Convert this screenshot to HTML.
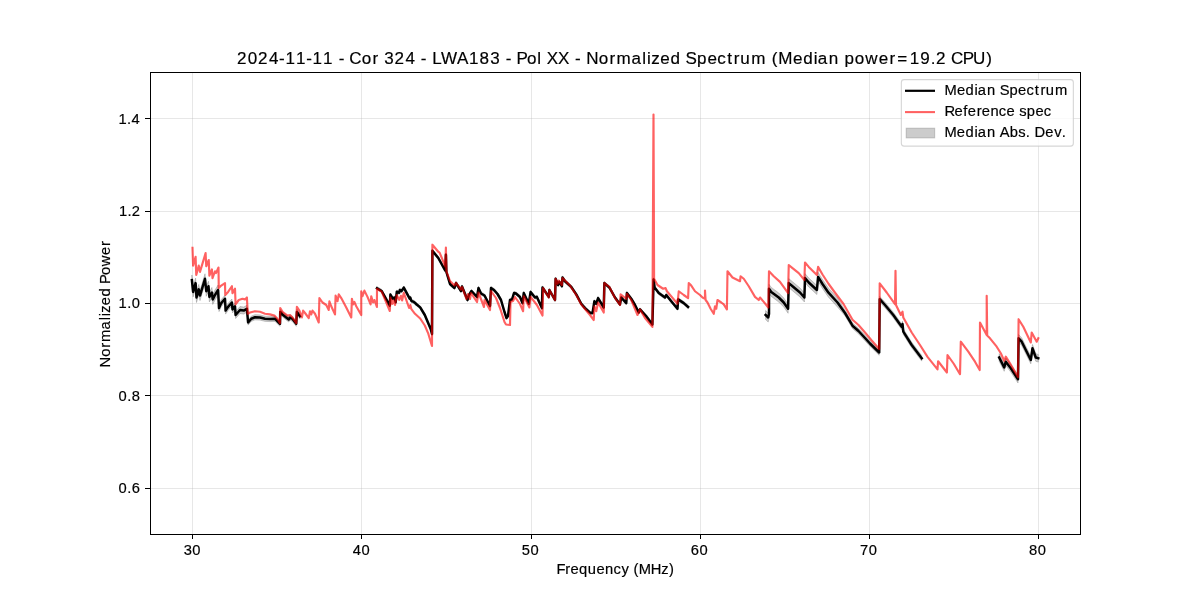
<!DOCTYPE html>
<html><head><meta charset="utf-8"><style>
html,body{margin:0;padding:0;background:#fff;width:1200px;height:600px;overflow:hidden}
svg{display:block;will-change:transform}
</style></head><body>
<svg width="1200" height="600" viewBox="0 0 1200 600"><rect x="0" y="0" width="1200" height="600" fill="#ffffff"/><g stroke="#b0b0b0" stroke-opacity="0.3" stroke-width="1" shape-rendering="crispEdges"><line x1="192.50" y1="72" x2="192.50" y2="534"/><line x1="361.50" y1="72" x2="361.50" y2="534"/><line x1="531.50" y1="72" x2="531.50" y2="534"/><line x1="700.50" y1="72" x2="700.50" y2="534"/><line x1="869.50" y1="72" x2="869.50" y2="534"/><line x1="1038.50" y1="72" x2="1038.50" y2="534"/><line x1="150" y1="488.50" x2="1080" y2="488.50"/><line x1="150" y1="395.50" x2="1080" y2="395.50"/><line x1="150" y1="303.50" x2="1080" y2="303.50"/><line x1="150" y1="211.50" x2="1080" y2="211.50"/><line x1="150" y1="118.50" x2="1080" y2="118.50"/></g><defs><clipPath id="ax"><rect x="150" y="72" width="930" height="462"/></clipPath></defs><g clip-path="url(#ax)"><polygon points="191.90,275.00 193.10,286.90 195.60,278.10 196.50,292.50 198.75,284.40 200.00,290.60 205.00,273.75 206.25,286.25 208.50,281.25 209.40,291.90 211.90,287.50 212.75,294.40 215.00,290.00 218.10,285.00 219.00,304.60 221.25,299.60 225.00,295.25 225.60,307.10 228.10,303.40 231.90,299.00 232.50,305.90 235.00,302.75 235.60,311.50 240.00,306.50 243.75,307.10 246.90,305.25 248.10,319.90 251.25,316.15 255.00,314.65 260.00,314.90 265.00,316.15 270.00,316.40 275.00,316.15 280.00,321.15 280.25,309.30 282.50,311.80 288.75,316.80 290.00,314.90 292.50,316.40 296.25,321.15 296.90,309.30 300.00,313.65 300.00,318.85 296.90,314.50 296.25,326.35 292.50,321.60 290.00,320.10 288.75,322.00 282.50,317.00 280.25,314.50 280.00,326.35 275.00,321.35 270.00,321.60 265.00,321.35 260.00,320.10 255.00,319.85 251.25,321.35 248.10,325.10 246.90,312.25 243.75,314.10 240.00,313.50 235.60,318.50 235.00,309.75 232.50,312.90 231.90,306.00 228.10,310.40 225.60,314.10 225.00,302.25 221.25,306.60 219.00,311.60 218.10,295.00 215.00,300.00 212.75,304.40 211.90,297.50 209.40,301.90 208.50,291.25 206.25,296.25 205.00,283.75 200.00,300.60 198.75,294.40 196.50,302.50 195.60,288.10 193.10,296.90 191.90,285.00" fill="#808080" fill-opacity="0.4" stroke="#808080" stroke-opacity="0.4" stroke-width="1" stroke-linejoin="round"/><polygon points="377.00,286.60 381.70,289.40 389.80,304.10 390.40,293.00 392.80,297.10 394.50,295.90 395.70,300.60 396.80,290.10 399.20,291.20 399.80,288.30 401.50,289.50 403.80,286.00 409.70,297.10 410.30,295.90 411.40,299.40 413.20,300.00 415.50,301.70 416.70,302.90 420.20,305.80 424.80,313.40 430.70,327.40 432.00,332.40 432.40,249.20 438.30,256.40 445.20,268.90 445.90,253.10 446.40,270.40 450.00,282.40 454.50,286.40 456.00,281.40 461.00,289.40 462.00,284.90 467.50,298.40 469.00,293.40 471.50,289.40 477.00,295.40 478.50,286.40 481.00,291.90 484.50,293.90 490.00,304.40 491.00,286.40 494.00,288.40 497.50,292.40 501.00,298.40 504.50,310.40 506.50,316.40 508.00,314.40 510.00,298.40 512.00,297.90 514.00,291.40 516.00,291.90 520.00,295.40 522.50,301.50 523.75,291.50 528.75,302.15 530.60,290.30 535.00,295.90 536.90,295.30 541.90,306.50 542.50,285.90 548.75,295.30 549.40,288.40 555.00,298.40 555.60,277.15 558.10,283.40 559.40,280.30 561.90,284.65 562.50,275.90 565.00,279.65 571.25,285.30 576.25,292.80 581.25,302.15 585.00,306.50 590.60,311.50 592.50,311.50 594.40,299.65 596.25,302.15 598.10,296.50 603.75,305.90 604.40,281.50 609.40,285.90 615.00,295.90 620.00,302.80 621.25,295.90 626.25,301.50 626.90,291.50 631.25,297.15 635.00,303.40 638.75,310.90 640.00,307.80 646.25,314.65 652.40,322.80 653.60,277.80 654.60,285.90 658.75,291.50 665.00,295.90 666.25,293.40 671.25,299.65 677.50,307.15 678.10,297.80 680.00,299.00 683.75,301.50 688.10,305.30 688.10,308.50 683.75,304.70 680.00,302.20 678.10,301.00 677.50,310.35 671.25,302.85 666.25,296.60 665.00,299.10 658.75,294.70 654.60,289.10 653.60,281.00 652.40,326.00 646.25,317.85 640.00,311.00 638.75,314.10 635.00,306.60 631.25,300.35 626.90,294.70 626.25,304.70 621.25,299.10 620.00,306.00 615.00,299.10 609.40,289.10 604.40,284.70 603.75,309.10 598.10,299.70 596.25,305.35 594.40,302.85 592.50,314.70 590.60,314.70 585.00,309.70 581.25,305.35 576.25,296.00 571.25,288.50 565.00,282.85 562.50,279.10 561.90,287.85 559.40,283.50 558.10,286.60 555.60,280.35 555.00,301.60 549.40,291.60 548.75,298.50 542.50,289.10 541.90,309.70 536.90,298.50 535.00,299.10 530.60,293.50 528.75,305.35 523.75,294.70 522.50,304.70 520.00,298.60 516.00,295.10 514.00,294.60 512.00,301.10 510.00,301.60 508.00,317.60 506.50,319.60 504.50,313.60 501.00,301.60 497.50,295.60 494.00,291.60 491.00,289.60 490.00,307.60 484.50,297.10 481.00,295.10 478.50,289.60 477.00,298.60 471.50,292.60 469.00,296.60 467.50,301.60 462.00,288.10 461.00,292.60 456.00,284.60 454.50,289.60 450.00,285.60 446.40,273.60 445.90,256.30 445.20,272.10 438.30,259.60 432.40,252.40 432.00,335.60 430.70,330.60 424.80,316.60 420.20,309.00 416.70,306.10 415.50,304.90 413.20,303.20 411.40,302.60 410.30,299.10 409.70,300.30 403.80,289.20 401.50,292.70 399.80,291.50 399.20,294.40 396.80,293.30 395.70,303.80 394.50,299.10 392.80,300.30 390.40,296.20 389.80,307.30 381.70,292.60 377.00,289.80" fill="#808080" fill-opacity="0.4" stroke="#808080" stroke-opacity="0.4" stroke-width="1" stroke-linejoin="round"/><polygon points="765.60,310.50 768.20,313.00 769.00,309.50 769.00,284.25 771.25,287.40 778.75,293.00 783.75,298.00 788.10,304.25 788.75,278.60 792.50,281.75 800.00,288.00 804.40,293.00 805.00,273.60 808.75,278.00 816.90,285.50 818.10,272.40 822.50,279.50 828.50,288.20 837.50,298.00 845.00,310.20 852.50,322.90 858.50,328.20 865.00,335.20 870.00,340.70 879.20,349.70 879.70,296.40 885.00,302.20 893.30,312.20 901.70,323.90 902.50,321.20 903.30,328.90 911.70,342.20 921.70,355.50 921.70,361.10 911.70,347.80 903.30,334.50 902.50,326.80 901.70,329.50 893.30,317.80 885.00,307.80 879.70,302.00 879.20,355.30 870.00,346.30 865.00,340.80 858.50,333.80 852.50,328.50 845.00,315.80 837.50,307.00 828.50,297.20 822.50,288.50 818.10,281.40 816.90,294.50 808.75,287.00 805.00,282.60 804.40,302.00 800.00,297.00 792.50,290.75 788.75,287.60 788.10,313.25 783.75,307.00 778.75,302.00 771.25,296.40 769.00,293.25 769.00,318.50 768.20,322.00 765.60,319.50" fill="#808080" fill-opacity="0.4" stroke="#808080" stroke-opacity="0.4" stroke-width="1" stroke-linejoin="round"/><polygon points="999.20,353.70 1004.20,363.70 1005.80,357.90 1010.80,364.50 1018.00,375.40 1018.60,334.50 1021.70,337.90 1030.80,356.20 1032.50,344.50 1035.80,353.70 1038.30,354.50 1038.30,362.10 1035.80,361.30 1032.50,352.10 1030.80,363.80 1021.70,345.50 1018.60,342.10 1018.00,383.00 1010.80,372.10 1005.80,365.50 1004.20,371.30 999.20,361.30" fill="#808080" fill-opacity="0.4" stroke="#808080" stroke-opacity="0.4" stroke-width="1" stroke-linejoin="round"/><polyline points="191.90,280.00 193.10,291.90 195.60,283.10 196.50,297.50 198.75,289.40 200.00,295.60 205.00,278.75 206.25,291.25 208.50,286.25 209.40,296.90 211.90,292.50 212.75,299.40 215.00,295.00 218.10,290.00 219.00,308.10 221.25,303.10 225.00,298.75 225.60,310.60 228.10,306.90 231.90,302.50 232.50,309.40 235.00,306.25 235.60,315.00 240.00,310.00 243.75,310.60 246.90,308.75 248.10,322.50 251.25,318.75 255.00,317.25 260.00,317.50 265.00,318.75 270.00,319.00 275.00,318.75 280.00,323.75 280.25,311.90 282.50,314.40 288.75,319.40 290.00,317.50 292.50,319.00 296.25,323.75 296.90,311.90 300.00,316.25" fill="none" stroke="#000000" stroke-width="2.5" stroke-linejoin="round" stroke-linecap="square"/><polyline points="377.00,288.20 381.70,291.00 389.80,305.70 390.40,294.60 392.80,298.70 394.50,297.50 395.70,302.20 396.80,291.70 399.20,292.80 399.80,289.90 401.50,291.10 403.80,287.60 409.70,298.70 410.30,297.50 411.40,301.00 413.20,301.60 415.50,303.30 416.70,304.50 420.20,307.40 424.80,315.00 430.70,329.00 432.00,334.00 432.40,250.80 438.30,258.00 445.20,270.50 445.90,254.70 446.40,272.00 450.00,284.00 454.50,288.00 456.00,283.00 461.00,291.00 462.00,286.50 467.50,300.00 469.00,295.00 471.50,291.00 477.00,297.00 478.50,288.00 481.00,293.50 484.50,295.50 490.00,306.00 491.00,288.00 494.00,290.00 497.50,294.00 501.00,300.00 504.50,312.00 506.50,318.00 508.00,316.00 510.00,300.00 512.00,299.50 514.00,293.00 516.00,293.50 520.00,297.00 522.50,303.10 523.75,293.10 528.75,303.75 530.60,291.90 535.00,297.50 536.90,296.90 541.90,308.10 542.50,287.50 548.75,296.90 549.40,290.00 555.00,300.00 555.60,278.75 558.10,285.00 559.40,281.90 561.90,286.25 562.50,277.50 565.00,281.25 571.25,286.90 576.25,294.40 581.25,303.75 585.00,308.10 590.60,313.10 592.50,313.10 594.40,301.25 596.25,303.75 598.10,298.10 603.75,307.50 604.40,283.10 609.40,287.50 615.00,297.50 620.00,304.40 621.25,297.50 626.25,303.10 626.90,293.10 631.25,298.75 635.00,305.00 638.75,312.50 640.00,309.40 646.25,316.25 652.40,324.40 653.60,279.40 654.60,287.50 658.75,293.10 665.00,297.50 666.25,295.00 671.25,301.25 677.50,308.75 678.10,299.40 680.00,300.60 683.75,303.10 688.10,306.90" fill="none" stroke="#000000" stroke-width="2.5" stroke-linejoin="round" stroke-linecap="square"/><polyline points="765.60,315.00 768.20,317.50 769.00,314.00 769.00,288.75 771.25,291.90 778.75,297.50 783.75,302.50 788.10,308.75 788.75,283.10 792.50,286.25 800.00,292.50 804.40,297.50 805.00,278.10 808.75,282.50 816.90,290.00 818.10,276.90 822.50,284.00 828.50,292.70 837.50,302.50 845.00,313.00 852.50,325.70 858.50,331.00 865.00,338.00 870.00,343.50 879.20,352.50 879.70,299.20 885.00,305.00 893.30,315.00 901.70,326.70 902.50,324.00 903.30,331.70 911.70,345.00 921.70,358.30" fill="none" stroke="#000000" stroke-width="2.5" stroke-linejoin="round" stroke-linecap="square"/><polyline points="999.20,357.50 1004.20,367.50 1005.80,361.70 1010.80,368.30 1018.00,379.20 1018.60,338.30 1021.70,341.70 1030.80,360.00 1032.50,348.30 1035.80,357.50 1038.30,358.30" fill="none" stroke="#000000" stroke-width="2.5" stroke-linejoin="round" stroke-linecap="square"/><polyline points="192.50,247.75 193.10,265.60 195.60,256.90 196.25,275.00 198.75,265.60 200.00,271.90 205.60,253.10 206.25,266.25 208.75,260.00 209.40,275.60 211.90,269.40 212.50,278.10 215.00,271.25 216.00,273.10 218.50,267.50 218.75,288.10 221.25,285.60 225.00,283.10 225.25,295.00 228.10,291.90 231.90,286.25 232.50,293.10 235.00,288.75 235.60,304.40 238.75,300.00 242.50,298.75 245.00,299.40 246.90,297.50 247.75,313.75 250.00,312.50 255.00,311.20 260.00,311.80 265.00,313.80 270.00,314.40 274.40,315.60 277.50,318.75 280.00,323.10 280.25,308.10 282.50,311.90 287.50,315.60 290.00,315.00 292.50,317.50 296.25,323.10 296.90,306.90 299.40,310.60 301.90,317.50 303.10,310.60 305.60,313.75 308.75,318.10 310.00,311.25 311.25,314.40 312.50,310.60 315.00,313.75 318.75,322.50 319.40,298.10 322.50,302.50 326.25,305.00 328.75,310.00 329.40,301.25 331.25,306.25 335.00,314.40 335.60,295.60 337.50,301.25 338.75,294.40 341.25,298.10 346.25,307.50 351.25,317.50 351.90,298.75 353.10,304.40 354.40,301.90 356.25,306.25 361.25,315.00 361.25,291.25 362.50,296.25 364.40,290.60 367.50,296.90 370.60,304.40 371.25,296.25 373.10,302.50 374.40,300.00 376.90,306.90 377.00,288.75 381.70,291.70 389.80,311.00 390.40,297.50 392.20,303.90 393.30,300.40 395.00,305.00 396.80,295.20 399.20,299.80 400.90,295.80 402.10,300.40 403.80,292.80 409.10,308.00 410.30,305.10 411.40,309.20 415.00,313.80 420.20,318.50 424.80,325.50 428.30,333.70 432.00,346.00 432.40,244.70 438.30,251.75 439.60,252.60 445.30,266.50 445.90,247.60 446.40,271.25 450.00,281.00 454.50,285.50 456.00,283.00 461.00,289.50 462.00,287.00 466.50,299.00 468.00,294.00 470.00,299.00 471.00,293.00 477.00,302.00 478.50,292.50 484.00,307.00 484.50,300.00 490.00,310.00 491.00,291.00 496.00,298.00 500.00,308.00 504.50,322.00 506.00,324.50 510.00,325.00 510.50,302.00 513.00,301.00 515.00,297.00 520.00,304.00 523.10,311.25 523.75,296.25 529.40,307.50 530.60,296.90 535.00,302.50 536.90,305.00 542.50,315.60 543.10,288.10 548.75,297.50 549.40,290.00 555.00,300.00 555.60,278.75 557.50,283.75 558.75,280.60 561.90,285.00 562.50,278.10 570.00,285.60 571.25,287.50 576.25,295.00 581.25,304.40 585.00,309.00 590.00,315.00 593.75,320.00 594.40,306.25 596.25,311.25 598.10,302.50 603.75,312.50 604.40,283.10 609.40,287.00 615.00,298.00 620.00,305.00 620.60,294.40 626.25,298.75 626.90,293.75 631.25,300.00 637.50,315.00 640.00,309.40 645.00,318.00 652.40,326.90 653.50,114.50 654.10,278.75 657.50,285.00 663.10,288.75 665.60,288.10 666.90,291.25 677.50,303.75 678.75,291.25 683.75,295.00 688.10,298.10 688.75,283.10 691.25,285.60 695.00,291.25 700.00,295.00 702.50,297.50 705.00,298.75 705.00,290.60 705.60,300.00 707.50,302.50 710.60,308.75 713.75,313.75 715.00,306.25 716.25,308.75 717.50,300.00 721.25,302.50 723.75,304.40 726.90,309.40 727.50,271.25 732.50,277.50 737.50,280.00 740.00,281.25 740.60,276.25 743.75,278.75 748.75,286.25 755.00,296.90 758.75,300.00 760.00,297.50 763.75,301.90 768.30,307.50 769.00,271.25 773.75,276.25 780.00,281.90 788.10,293.10 788.75,265.00 792.50,268.10 798.75,273.10 804.40,280.00 805.00,262.50 808.75,266.90 816.90,275.00 818.10,266.90 822.50,274.50 828.50,283.75 834.50,292.00 843.50,304.00 852.50,319.70 858.50,325.00 865.00,332.50 871.25,340.00 879.20,349.00 879.70,283.30 886.70,292.50 895.00,304.20 895.50,270.80 896.00,305.00 900.80,315.00 902.50,311.70 903.30,317.50 911.70,332.50 920.00,345.00 927.50,356.90 937.50,369.40 938.10,361.25 946.90,372.50 947.50,355.00 953.75,363.75 960.00,374.20 960.80,341.70 968.30,351.70 975.00,361.70 979.70,370.00 980.00,322.50 986.70,335.00 986.70,295.80 987.20,335.50 990.00,338.30 996.70,346.70 1000.80,353.30 1004.20,360.80 1005.80,356.70 1010.00,363.30 1018.00,377.00 1018.60,319.20 1023.30,326.70 1030.80,342.50 1031.70,332.50 1036.70,341.70 1038.30,338.30" fill="none" stroke="#ff0000" stroke-opacity="0.62" stroke-width="2.15" stroke-linejoin="round" stroke-linecap="square"/></g><rect x="150.5" y="72.5" width="930" height="462" fill="none" stroke="#000" stroke-width="1" shape-rendering="crispEdges"/><g stroke="#000" stroke-width="1" shape-rendering="crispEdges"><line x1="192.50" y1="534" x2="192.50" y2="539"/><line x1="361.50" y1="534" x2="361.50" y2="539"/><line x1="531.50" y1="534" x2="531.50" y2="539"/><line x1="700.50" y1="534" x2="700.50" y2="539"/><line x1="869.50" y1="534" x2="869.50" y2="539"/><line x1="1038.50" y1="534" x2="1038.50" y2="539"/><line x1="150" y1="488.50" x2="145" y2="488.50"/><line x1="150" y1="395.50" x2="145" y2="395.50"/><line x1="150" y1="303.50" x2="145" y2="303.50"/><line x1="150" y1="211.50" x2="145" y2="211.50"/><line x1="150" y1="118.50" x2="145" y2="118.50"/></g><g font-family='"Liberation Sans", sans-serif' fill="#000" stroke="#000" stroke-width="0.18"><text x="183.67 192.31" y="555.00" font-size="14.72">30</text><text x="352.79 361.59" y="555.00" font-size="14.72">40</text><text x="521.83 530.48" y="555.00" font-size="14.72">50</text><text x="690.71 699.62" y="555.00" font-size="14.72">60</text><text x="859.88 868.63" y="555.00" font-size="14.72">70</text><text x="1028.99 1037.82" y="555.00" font-size="14.72">80</text><text x="118.44 127.14 131.76" y="493.10" font-size="14.72">0.6</text><text x="118.52 127.18 131.75" y="400.70" font-size="14.72">0.8</text><text x="118.55 127.20 131.69" y="308.30" font-size="14.72">1.0</text><text x="119.02 127.61 131.86" y="215.90" font-size="14.72">1.2</text><text x="118.41 127.06 131.55" y="123.50" font-size="14.72">1.4</text><text x="236.94 247.74 258.10 268.89 279.08 285.39 295.96 306.23 312.54 323.11 323.11 338.67 338.67 349.35 361.75 372.48 372.48 384.26 394.59 405.39 405.39 420.86 420.86 432.24 441.07 457.11 468.95 479.60 490.20 490.20 505.65 505.65 516.39 527.01 537.24 537.24 546.72 558.11 558.11 574.95 574.95 586.14 598.87 609.60 616.51 631.39 642.25 646.88 651.26 660.21 670.46 670.46 685.55 697.07 707.38 717.31 727.19 733.77 740.19 751.28 751.28 771.68 778.28 792.94 803.20 813.73 817.67 828.69 828.69 844.59 854.84 865.31 878.67 889.40 897.32 909.72 920.32 930.67 936.02 936.02 951.11 962.77 973.12 986.18" y="63.80" font-size="17.04">2024-11-11 - Cor 324 - LWA183 - Pol XX - Normalized Spectrum (Median power=19.2 CPU)</text><text x="556.39 565.26 570.39 578.90 587.71 596.39 605.01 613.39 621.43 621.43 633.45 638.80 650.75 661.27 669.11" y="573.90" font-size="14.72">Frequency (MHz)</text><text x="-1.21 9.53 18.58 24.29 36.85 46.06 49.95 53.58 61.10 69.72 69.72 82.32 91.25 100.02 111.29 120.34" y="0" font-size="14.72" transform="translate(109.5,366.25) rotate(-90)">Normalized Power</text></g><rect x="901.35" y="79.6" width="172" height="66.5" rx="2.8" ry="2.8" fill="#ffffff" fill-opacity="0.8" stroke="#cccccc" stroke-opacity="0.8" stroke-width="1.11"/><line x1="905" y1="90.8" x2="935" y2="90.8" stroke="#000" stroke-width="2.2" stroke-linecap="butt"/><line x1="905" y1="112.1" x2="935" y2="112.1" stroke="#ff0000" stroke-opacity="0.62" stroke-width="2.08"/><rect x="906.2" y="128.2" width="28.5" height="9.7" fill="#808080" fill-opacity="0.4" stroke="#808080" stroke-opacity="0.4" stroke-width="1"/><g font-family='"Liberation Sans", sans-serif' fill="#000" stroke="#000" stroke-width="0.18"><text x="944.49 956.92 965.58 974.52 977.78 987.08 987.08 999.67 1009.41 1018.11 1026.50 1034.87 1040.41 1045.80 1055.11" y="94.60" font-size="14.72">Median Spectrum</text><text x="944.49 954.38 963.24 967.72 976.67 981.79 990.40 998.77 1006.59 1006.59 1019.28 1026.82 1035.38 1043.63" y="116.10" font-size="14.72">Reference spec</text><text x="944.49 956.87 965.49 974.40 977.63 986.89 986.89 999.68 1009.80 1018.29 1025.67 1025.67 1034.47 1045.37 1054.18 1061.85" y="136.60" font-size="14.72">Median Abs. Dev.</text></g></svg>
</body></html>
